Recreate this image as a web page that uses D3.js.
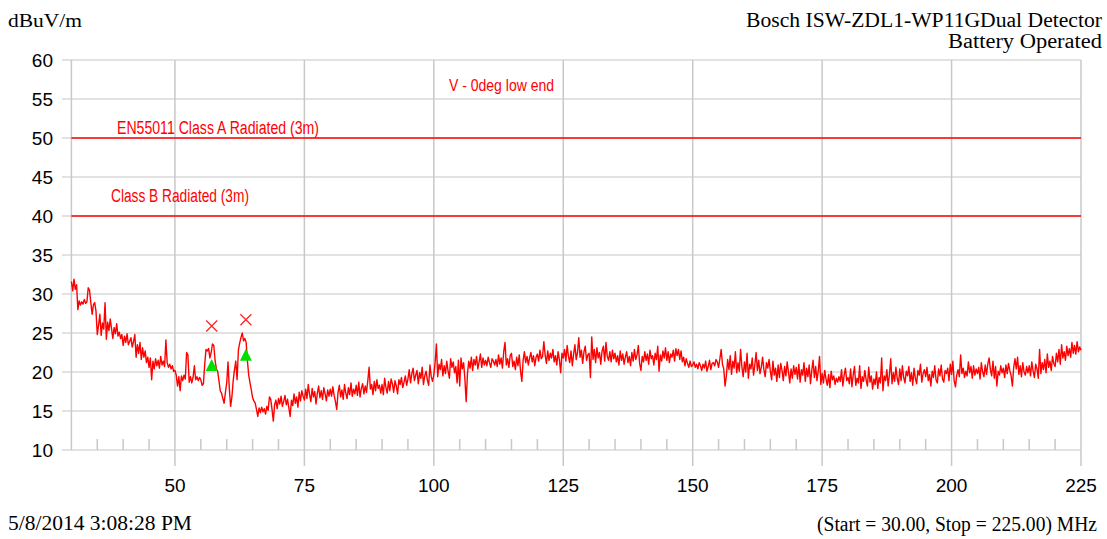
<!DOCTYPE html>
<html>
<head>
<meta charset="utf-8">
<script src="https://cdn.jsdelivr.net/npm/d3@7/dist/d3.min.js"></script>
<style>
  html, body { margin: 0; padding: 0; background: #fff; }
  svg { display: block; }
  .serif { font-family: "Liberation Serif", "Times New Roman", serif; fill: #000; }
  .sans { font-family: "Liberation Sans", Arial, sans-serif; }
</style>
</head>
<body>
<svg id="chart" width="1107" height="539"></svg>
<script>
// ---- Sweep data (dBuV/m), 30 MHz to 225 MHz in 0.25 MHz steps ----
const startMHz = 30;
const stopMHz = 225;
const stepMHz = 0.25;
const levels = [
  // 30 - 34.75
  31.6, 30.4, 31.9, 30.6, 31.2, 28.0, 29.1, 28.6, 29.0, 28.7, 29.3, 28.8, 29.0, 30.8, 30.5, 28.9, 27.4, 28.6, 28.9, 27.8,
  // 35 - 39.75
  24.8, 26.0, 27.4, 24.7, 26.3, 25.5, 28.9, 24.2, 26.4, 25.3, 26.8, 25.6, 24.3, 25.7, 24.9, 26.2, 24.6, 25.1, 24.3, 24.8,
  // 40 - 44.75
  23.4, 24.6, 23.8, 24.9, 23.5, 23.9, 24.4, 23.2, 23.9, 24.8, 21.9, 23.5, 22.4, 23.8, 21.6, 23.1, 21.9, 22.7, 21.2, 21.9,
  // 45 - 49.75
  20.6, 21.8, 19.0, 21.4, 20.4, 21.7, 20.8, 21.5, 20.5, 22.0, 20.9, 21.4, 20.7, 24.1, 21.2, 20.6, 21.0, 20.4, 20.8, 20.1,
  // 50 - 54.75
  20.2, 19.6, 18.2, 19.4, 17.6, 19.5, 18.9, 19.6, 19.1, 22.5, 22.2, 18.7, 19.4, 18.6, 19.3, 20.8, 19.0, 19.4, 18.9, 19.3,
  // 55 - 59.75
  19.0, 18.3, 18.5, 21.0, 22.9, 22.7, 23.0, 21.8, 22.5, 23.6, 23.4, 21.5, 20.4, 20.1, 18.9, 17.6, 17.3, 16.6, 16.0, 17.4,
  // 60 - 64.75
  18.6, 21.3, 17.9, 15.6, 16.8, 18.9, 20.3, 21.4, 19.0, 22.8, 23.7, 24.4, 25.0, 24.0, 24.3, 23.8, 21.4, 19.6, 18.6, 17.7,
  // 65 - 69.75
  16.7, 16.3, 16.0, 15.2, 14.3, 15.4, 14.8, 15.5, 14.9, 15.3, 14.6, 15.6, 15.1, 16.8, 16.5, 15.2, 13.7, 15.8, 16.4, 15.3,
  // 70 - 74.75
  16.6, 15.9, 16.9, 15.6, 16.2, 17.0, 15.8, 16.5, 15.4, 14.3, 16.4, 15.7, 17.2, 16.0, 16.8, 15.5, 17.4, 16.3, 17.6, 16.9,
  // 75 - 79.75
  16.4, 17.8, 16.6, 18.4, 17.1, 16.2, 17.9, 16.8, 17.5, 15.9, 17.3, 18.2, 16.7, 17.6, 16.5, 18.0, 17.2, 16.3, 17.7, 16.9,
  // 80 - 84.75
  17.8, 16.9, 18.1, 17.0, 16.2, 15.2, 17.4, 18.3, 16.8, 17.7, 16.5, 18.4, 17.3, 16.6, 18.0, 17.1, 18.6, 16.9, 17.8, 17.2,
  // 85 - 89.75
  18.3, 17.0, 18.7, 16.8, 17.9, 18.5, 17.2, 18.2, 17.4, 18.9, 20.6, 17.8, 18.4, 17.1, 18.8, 17.6, 19.0, 17.9, 18.3, 17.3,
  // 90 - 94.75
  18.4, 17.1, 19.2, 18.0, 17.3, 18.8, 17.6, 19.1, 18.5, 17.4, 18.9, 18.2, 17.2, 19.0, 18.4, 19.3, 18.0, 18.7, 19.5, 18.3,
  // 95 - 99.75
  19.1, 20.3, 18.6, 19.8, 20.5, 18.9, 19.6, 20.2, 18.5, 19.9, 19.2, 20.6, 18.4, 19.5, 20.1, 19.0, 18.3, 20.9, 19.4, 18.8,
  // 100 - 104.75
  19.6, 21.2, 23.6, 19.4, 21.0, 20.3, 21.6, 19.5, 20.8, 19.8, 21.4, 20.1, 19.2, 21.7, 20.6, 21.3, 19.9, 20.7, 18.6, 21.5,
  // 105 - 109.75
  18.2, 21.8, 20.4, 21.2, 19.1, 16.2, 19.8, 21.4, 20.5, 21.9, 20.2, 21.6, 20.9, 22.0, 20.4, 21.3, 22.3, 20.6, 21.8, 20.9,
  // 110 - 114.75
  21.5, 20.8, 21.9, 21.2, 20.6, 21.7, 21.4, 20.9, 21.6, 20.7, 22.2, 21.0, 21.8, 20.5, 22.6, 23.8, 20.9, 21.7, 20.6, 22.1,
  // 115 - 119.75
  22.4, 20.7, 21.4, 20.3, 21.9, 20.8, 22.2, 20.1, 18.8, 21.5, 22.6, 21.2, 22.0, 20.9, 21.8, 22.5, 21.3, 22.1, 20.8, 21.9,
  // 120 - 124.75
  22.3, 21.4, 22.8, 21.7, 22.0, 23.9, 22.2, 21.1, 22.7, 21.5, 22.4, 21.8, 22.9, 21.3, 22.1, 20.9, 22.6, 21.6, 19.9, 22.4,
  // 125 - 129.75
  21.8, 22.9, 21.4, 23.4, 22.0, 21.2, 22.7, 20.8, 22.3, 23.5, 21.6, 22.5, 24.4, 21.9, 22.8, 21.1, 22.6, 23.3, 21.5, 22.2,
  // 130 - 134.75
  22.4, 19.3, 24.5, 21.6, 22.9, 21.2, 23.1, 21.8, 22.5, 21.0, 22.7, 23.3, 21.4, 23.8, 22.0, 21.5, 22.6, 21.3, 22.8, 21.7,
  // 135 - 139.75
  22.4, 21.3, 22.1, 20.9, 22.7, 21.5, 22.3, 21.0, 21.9, 22.6, 21.2, 22.0, 20.8, 22.5, 21.4, 22.9, 21.6, 22.2, 23.4, 21.1,
  // 140 - 144.75
  20.2, 22.0, 21.3, 22.6, 21.5, 22.3, 21.0, 22.8, 21.7, 22.1, 20.9, 22.4, 21.6, 23.3, 20.1, 22.2, 21.4, 22.7, 21.8, 23.1,
  // 145 - 149.75
  21.5, 22.6, 21.2, 22.3, 21.9, 22.8, 21.4, 23.0, 22.1, 22.9, 21.6, 22.7, 21.3, 21.9, 20.8, 21.7, 21.1, 20.6, 21.4, 20.7,
  // 150 - 154.75
  20.9, 21.3, 20.6, 21.0, 20.4, 21.2, 20.8, 20.2, 21.0, 20.5, 21.4, 20.1, 20.7, 21.5, 20.3, 21.1, 21.2, 20.8, 21.6, 21.3,
  // 155 - 159.75
  20.6, 21.7, 22.9, 21.0, 20.4, 18.2, 19.5, 21.6, 20.3, 22.1, 19.7, 21.4, 20.5, 22.6, 19.9, 21.2, 20.1, 22.9, 20.7, 19.4,
  // 160 - 164.75
  21.3, 20.0, 22.4, 19.2, 21.0, 20.4, 21.8, 19.6, 20.9, 22.5, 20.2, 21.5, 19.8, 20.6, 21.9, 20.3, 19.4, 21.2, 20.5, 21.6,
  // 165 - 169.75
  20.1, 19.0, 21.4, 19.6, 20.5, 18.8, 20.9, 19.3, 21.1, 20.2, 18.9, 20.7, 19.5, 21.3, 20.0, 18.6, 20.4, 19.2, 20.8, 19.7,
  // 170 - 174.75
  20.6, 19.1, 21.0, 18.7, 20.3, 19.6, 21.2, 18.8, 20.5, 19.4, 20.9, 18.5, 20.2, 21.5, 19.3, 20.7, 18.9, 20.1, 22.0, 18.4,
  // 175 - 179.75
  19.8, 18.6, 20.2, 19.1, 18.3, 19.7, 18.0, 20.1, 19.0, 19.5, 18.4, 19.2, 18.7, 19.4, 18.8, 20.3, 18.2, 19.6, 20.5, 18.9,
  // 180 - 184.75
  19.3, 18.5, 20.4, 18.1, 19.6, 20.7, 18.3, 19.2, 18.6, 20.8, 17.9, 19.4, 18.8, 20.2, 19.0, 18.2, 20.6, 18.7, 19.5, 17.8,
  // 185 - 189.75
  19.1, 18.4, 20.0, 17.9, 19.3, 18.6, 21.8, 17.6, 19.5, 18.9, 20.3, 18.2, 19.7, 21.7, 18.5, 19.9, 18.8, 20.6, 19.2, 18.4,
  // 190 - 194.75
  20.4, 18.9, 20.8, 19.3, 18.6, 20.1, 19.5, 20.7, 18.8, 19.9, 18.3, 20.5, 19.2, 18.5, 20.2, 19.6, 21.0, 18.7, 19.8, 20.3,
  // 195 - 199.75
  19.4, 20.6, 18.9, 19.7, 18.2, 20.1, 19.3, 20.8, 19.0, 18.6, 20.4, 19.5, 20.9, 19.1, 18.7, 20.2, 19.8, 20.5, 18.9, 21.0,
  // 200 - 204.75
  19.7, 21.4, 18.9, 18.1, 19.6, 20.3, 19.4, 22.2, 19.8, 20.5, 19.3, 20.1, 19.5, 21.3, 19.9, 20.7, 19.2, 20.8, 19.6, 20.4,
  // 205 - 209.75
  19.8, 20.6, 19.1, 21.2, 20.0, 19.4, 20.9, 19.7, 21.0, 21.8, 20.3, 19.5, 21.4, 19.2, 20.7, 18.2, 20.1, 19.6, 20.8, 19.9,
  // 210 - 214.75
  20.5, 19.3, 20.9, 19.8, 21.1, 20.2, 19.5, 18.2, 20.6, 21.7, 20.4, 21.9, 19.7, 20.8, 19.4, 21.2, 20.0, 19.6, 20.7, 19.9,
  // 215 - 219.75
  20.8, 19.5, 21.3, 20.1, 19.3, 21.0, 20.4, 19.2, 22.9, 19.8, 21.2, 20.3, 21.6, 19.9, 22.3, 20.6, 21.4, 20.2, 22.0, 21.1,
  // 220 - 225
  20.7, 22.4, 21.3, 22.9, 21.0, 23.5, 21.8, 22.6, 21.5, 23.3, 22.1, 23.0, 21.9, 23.8, 22.4, 23.4, 22.3, 23.9, 22.6, 23.2,
  22.8
];

// Limit lines and their captions
const limitLevels = [50, 40];
const limitNames = ["EN55011 Class A Radiated (3m)", "Class B Radiated (3m)"];

// Marked emissions: peak (x) and quasi-peak (triangle) readings
const markerFreqs = [57.1, 63.7];
const peakLevels = [25.9, 26.7];
const quasiPeakLevels = [20.9, 22.2];

// Axis ticks
const yTicks = [10, 15, 20, 25, 30, 35, 40, 45, 50, 55, 60];
const xMajorTicks = [50, 75, 100, 125, 150, 175, 200, 225];
const xMinorTicks = d3.range(35, 225, 5).filter(v => v % 25 !== 0);

// ---- Scales ----
const svg = d3.select("#chart");
const x = d3.scaleLinear().domain([startMHz, stopMHz]).range([71.4, 1081]);
const y = d3.scaleLinear().domain([10, 60]).range([450, 60]);

svg.append("rect").attr("width", 1107).attr("height", 539).attr("fill", "#fff");

// Horizontal grid
svg.append("g").selectAll("line").data(yTicks).join("line")
  .attr("x1", 62).attr("x2", x(stopMHz))
  .attr("y1", d => y(d)).attr("y2", d => y(d))
  .attr("stroke", "#d8d8d8").attr("stroke-width", 1.5);

// Left frame edge
svg.append("line")
  .attr("x1", x(startMHz)).attr("x2", x(startMHz))
  .attr("y1", y(60)).attr("y2", y(10))
  .attr("stroke", "#c8c8c8").attr("stroke-width", 1.5);

// Vertical grid, extended below the plot as major ticks
svg.append("g").selectAll("line").data(xMajorTicks).join("line")
  .attr("x1", d => x(d)).attr("x2", d => x(d))
  .attr("y1", y(60)).attr("y2", y(10) + 16)
  .attr("stroke", "#c8c8c8").attr("stroke-width", 1.5);

// Minor ticks
svg.append("g").selectAll("line").data(xMinorTicks).join("line")
  .attr("x1", d => x(d)).attr("x2", d => x(d))
  .attr("y1", y(10) - 11).attr("y2", y(10))
  .attr("stroke", "#c8c8c8").attr("stroke-width", 1.5);

// Y tick labels
svg.append("g").selectAll("text").data(yTicks).join("text")
  .attr("class", "sans")
  .attr("x", 53).attr("y", d => y(d))
  .attr("dy", "0.36em")
  .attr("text-anchor", "end")
  .attr("font-size", 19)
  .attr("fill", "#000")
  .text(d => d);

// X tick labels
svg.append("g").selectAll("text").data(xMajorTicks).join("text")
  .attr("class", "sans")
  .attr("x", d => x(d)).attr("y", 492)
  .attr("text-anchor", "middle")
  .attr("font-size", 19)
  .attr("fill", "#000")
  .text(d => d);

// Limit lines
svg.append("g").selectAll("line").data(limitLevels).join("line")
  .attr("x1", x(startMHz)).attr("x2", x(stopMHz))
  .attr("y1", d => y(d)).attr("y2", d => y(d))
  .attr("stroke", "#ff0000").attr("stroke-width", 1.5);

// Limit captions (condensed)
const captionPos = [{ x: 117, y: 134, w: 202 }, { x: 111, y: 202, w: 138 }];
svg.append("g").selectAll("text").data(limitNames).join("text")
  .attr("class", "sans")
  .attr("x", (d, i) => captionPos[i].x)
  .attr("y", (d, i) => captionPos[i].y)
  .attr("font-size", 18)
  .attr("fill", "#ff0000")
  .attr("textLength", (d, i) => captionPos[i].w)
  .attr("lengthAdjust", "spacingAndGlyphs")
  .text(d => d);

svg.append("text")
  .attr("class", "sans")
  .attr("x", 449).attr("y", 91)
  .attr("font-size", 17)
  .attr("fill", "#ff0000")
  .attr("textLength", 105)
  .attr("lengthAdjust", "spacingAndGlyphs")
  .text("V - 0deg low end");

// Measured trace
const sweep = levels.map((v, i) => [startMHz + i * stepMHz, v]);
svg.append("path")
  .datum(sweep)
  .attr("fill", "none")
  .attr("stroke", "#ff0000")
  .attr("stroke-width", 1.4)
  .attr("stroke-linejoin", "round")
  .attr("d", d3.line().x(d => x(d[0])).y(d => y(d[1])));

// Peak markers (x)
const xs = 5.5;
svg.append("g").selectAll("path").data(markerFreqs).join("path")
  .attr("d", (f, i) => {
    const cx = x(f), cy = y(peakLevels[i]);
    return `M${cx - xs},${cy - xs}L${cx + xs},${cy + xs}M${cx - xs},${cy + xs}L${cx + xs},${cy - xs}`;
  })
  .attr("stroke", "#ff2020").attr("stroke-width", 1.2).attr("fill", "none");

// Quasi-peak markers (triangles)
const ts = 6;
svg.append("g").selectAll("path").data(markerFreqs).join("path")
  .attr("d", (f, i) => {
    const cx = x(f), cy = y(quasiPeakLevels[i]);
    return `M${cx},${cy - ts}L${cx + ts},${cy + ts}L${cx - ts},${cy + ts}Z`;
  })
  .attr("fill", "#00e000");

// Header and footer texts
const addText = (str, px, py, size, width, anchor) =>
  svg.append("text")
    .attr("class", "serif")
    .attr("x", px).attr("y", py)
    .attr("font-size", size)
    .attr("text-anchor", anchor)
    .attr("textLength", width)
    .attr("lengthAdjust", "spacingAndGlyphs")
    .text(str);

addText("dBuV/m", 8, 27, 19, 74, "start");
addText("Bosch ISW-ZDL1-WP11GDual Detector", 1102, 27, 20, 356, "end");
addText("Battery Operated", 1102, 48, 20, 154, "end");
addText("5/8/2014 3:08:28 PM", 8, 530, 20, 184, "start");
addText("(Start = 30.00, Stop = 225.00) MHz", 1097, 531, 20, 280, "end");
</script>
</body>
</html>
